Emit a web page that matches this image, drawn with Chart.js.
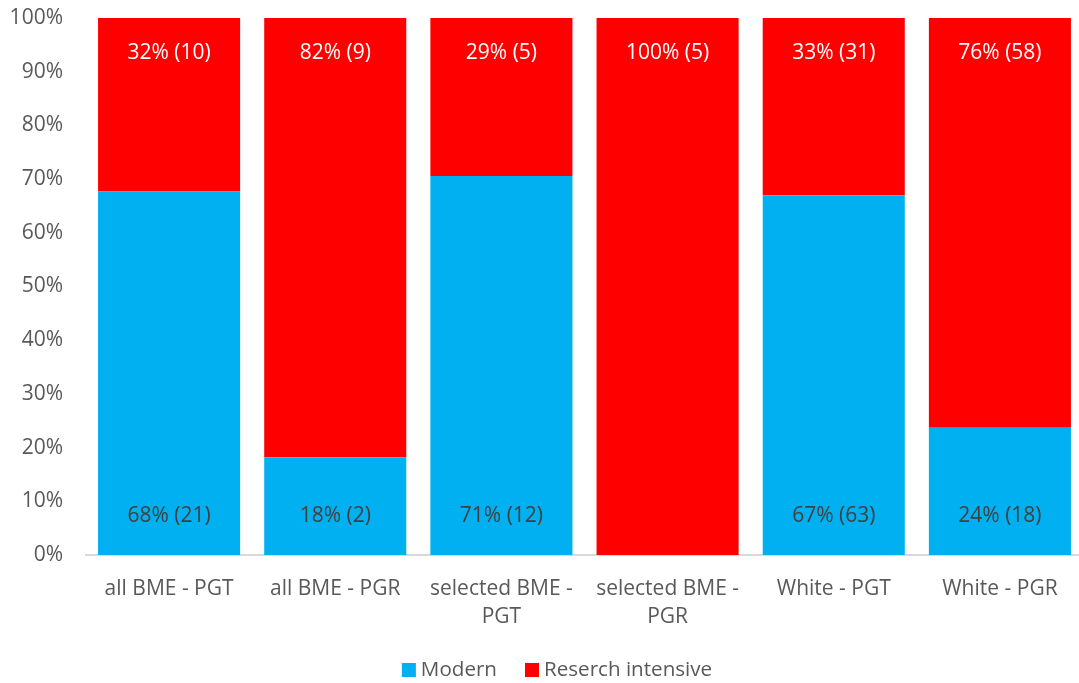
<!DOCTYPE html>
<html>
<head>
<meta charset="utf-8">
<script src="https://cdn.jsdelivr.net/npm/chart.js@4/dist/chart.umd.min.js"></script>
<style>
  html, body { margin: 0; padding: 0; background: #ffffff; overflow: hidden; }
  #wrap { position: relative; width: 1083px; height: 683px; }
</style>
</head>
<body>
<div id="wrap"><canvas id="chart"></canvas></div>
<script>
// Categories (multi-line where the label wraps)
const categories = [
  'all BME - PGT',
  'all BME - PGR',
  ['selected BME -', 'PGT'],
  ['selected BME -', 'PGR'],
  'White - PGT',
  'White - PGR'
];

// Share of each group (percent) and head counts
const modernPct    = [67.7, 18.2, 70.6, 0, 67.0, 23.7];
const researchPct  = [32.3, 81.8, 29.4, 100, 33.0, 76.3];
const modernCount   = [21, 2, 12, 0, 63, 18];
const researchCount = [10, 9, 5, 5, 31, 58];

// Y axis tick values
const yTicks = [0, 10, 20, 30, 40, 50, 60, 70, 80, 90, 100];

const FONT = "'Open Sans', 'DejaVu Sans', sans-serif";
const TEXT_GREY = '#595959';

// Writes "NN% (n)" inside each segment: top of red segments, base of blue ones
const segmentLabels = {
  id: 'segmentLabels',
  afterDatasetsDraw(chart) {
    const ctx = chart.ctx;
    ctx.save();
    ctx.font = '21px ' + FONT;
    ctx.textAlign = 'center';
    ctx.textBaseline = 'middle';
    chart.data.datasets.forEach((ds, di) => {
      const meta = chart.getDatasetMeta(di);
      meta.data.forEach((bar, i) => {
        const pct = ds.data[i];
        if (!pct) return;
        const text = Math.round(pct) + '% (' + ds.counts[i] + ')';
        if (ds.labelAt === 'top') {
          ctx.fillStyle = '#ffffff';
          ctx.fillText(text, bar.x, bar.y + 35);
        } else {
          ctx.fillStyle = '#404040';
          ctx.fillText(text, bar.x, bar.base - 39);
        }
      });
    });
    ctx.restore();
  }
};

// Compact legend row under the axis: square swatch, short gap, series name
const bottomLegend = {
  id: 'bottomLegend',
  afterDraw(chart) {
    const ctx = chart.ctx;
    const box = 14, gapText = 5, gapItem = 28, cy = 670;
    ctx.save();
    ctx.font = '20.6px ' + FONT;
    ctx.textBaseline = 'middle';
    ctx.textAlign = 'left';
    const items = chart.data.datasets.map(ds => ({
      text: ds.label, color: ds.backgroundColor, w: ctx.measureText(ds.label).width
    }));
    const total = items.reduce((s, it) => s + box + gapText + it.w, 0) + gapItem * (items.length - 1);
    let x = 557 - total / 2;
    items.forEach(it => {
      ctx.fillStyle = it.color;
      ctx.fillRect(x, cy - box / 2, box, box);
      x += box + gapText;
      ctx.fillStyle = TEXT_GREY;
      ctx.fillText(it.text, x, cy);
      x += it.w + gapItem;
    });
    ctx.restore();
  }
};

new Chart(document.getElementById('chart'), {
  type: 'bar',
  data: {
    labels: categories,
    datasets: [
      {
        label: 'Modern',
        data: modernPct,
        counts: modernCount,
        labelAt: 'base',
        backgroundColor: '#00B0F0',
        borderWidth: 0,
        barPercentage: 0.855,
        categoryPercentage: 1.0
      },
      {
        label: 'Reserch intensive',
        data: researchPct,
        counts: researchCount,
        labelAt: 'top',
        backgroundColor: '#FF0000',
        borderWidth: 0,
        barPercentage: 0.855,
        categoryPercentage: 1.0
      }
    ]
  },
  options: {
    responsive: true,
    maintainAspectRatio: false,
    animation: false,
    layout: { padding: { top: 18, left: 0, right: 0, bottom: 40 } },
    plugins: {
      legend: { display: false },
      tooltip: { enabled: false }
    },
    scales: {
      x: {
        stacked: true,
        afterFit(scale) { scale.height = 88; },
        grid: { display: false, drawTicks: false },
        border: { display: true, color: '#d9d9d9', width: 2 },
        ticks: {
          color: TEXT_GREY,
          font: { family: FONT, size: 21, lineHeight: 1.33 },
          padding: 20,
          maxRotation: 0,
          autoSkip: false
        }
      },
      y: {
        stacked: true,
        min: 0,
        max: 100,
        afterFit(scale) {
          scale.width = 86;
          scale.paddingTop = 0;
          scale.paddingBottom = 0;
        },
        afterBuildTicks(scale) { scale.ticks = yTicks.map(v => ({ value: v })); },
        grid: { display: false, drawTicks: false },
        border: { display: false },
        ticks: {
          color: TEXT_GREY,
          font: { family: FONT, size: 21 },
          padding: 23,
          callback: v => v + '%'
        }
      }
    }
  },
  plugins: [segmentLabels, bottomLegend]
});
</script>
</body>
</html>
